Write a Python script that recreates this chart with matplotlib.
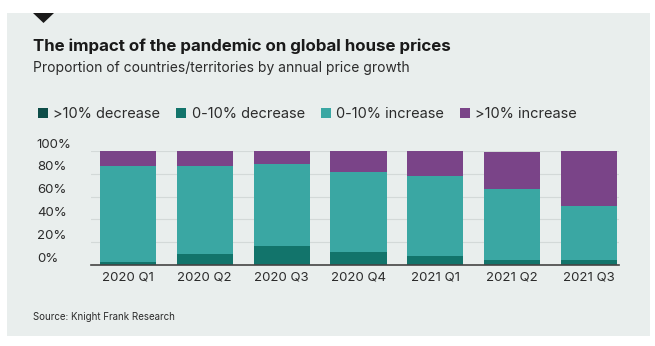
import matplotlib.pyplot as plt
import numpy as np
from matplotlib.patches import Rectangle, Patch, Polygon
from matplotlib.transforms import ScaledTranslation

plt.rcParams['font.family'] = ['Inter', 'DejaVu Sans']

quarters = ["2020 Q1", "2020 Q2", "2020 Q3", "2020 Q4", "2021 Q1", "2021 Q2", "2021 Q3"]
big_decrease = [0, 0, 0, 0, 0, 0, 0]
small_decrease = [2.5, 9.5, 16.5, 11.5, 8, 4.5, 4.5]
small_increase = [84.5, 77.5, 72.5, 70.5, 70, 62, 47]
big_increase = [13, 13, 11, 18, 22, 32.5, 48.5]
series_names = [">10% decrease", "0-10% decrease", "0-10% increase", ">10% increase"]
y_ticks = [0, 20, 40, 60, 80, 100]

colors = ["#0d4d48", "#12746b", "#3aa7a3", "#7a4488"]
text_color = "#2b2b2b"

fig = plt.figure(figsize=(6.55, 3.46), dpi=100)
W, H = 655, 346

# grey card behind everything
fig.patches.append(Rectangle((7 / W, 1 - 336 / H), 643 / W, 323 / H, transform=fig.transFigure,
                             facecolor="#e9eeed", edgecolor="none", zorder=-2))
# little marker triangle at the top
fig.patches.append(Polygon([(33 / W, 1 - 13 / H), (54 / W, 1 - 13 / H), (43.5 / W, 1 - 23 / H)],
                           closed=True, transform=fig.transFigure, facecolor="#1a1a1a",
                           edgecolor="none", zorder=-1))

# titles
fig.text(33 / W, 1 - 46 / H, "The impact of the pandemic on global house prices", fontsize=12.2,
         fontweight="bold", color="#1a1a1a", va="center", ha="left")
fig.text(33 / W, 1 - 68 / H, "Proportion of countries/territories by annual price growth", fontsize=10,
         color=text_color, va="center", ha="left")
fig.text(33 / W, 1 - 317 / H, "Source: Knight Frank Research", fontsize=7,
         color=text_color, va="center", ha="left")

ax = fig.add_axes([91 / W, 1 - 265 / H, 528 / W, 114 / H])
ax.set_facecolor("none")

x = np.arange(len(quarters))
bottom = np.zeros(len(quarters))
for name, vals, c in zip(series_names, [big_decrease, small_decrease, small_increase, big_increase], colors):
    ax.bar(x, vals, width=0.73, bottom=bottom, color=c, label=name, zorder=2)
    bottom += np.array(vals)

ax.set_xlim(-0.48, 6.39)
ax.set_ylim(0, 100)
ax.set_xticks(x)
ax.set_xticklabels(quarters, fontsize=9.5, color=text_color)
ax.set_yticks(y_ticks)
ax.set_yticklabels([f"{t}%" for t in y_ticks], fontsize=9.5, color=text_color, ha="left")
ax.tick_params(axis="y", length=0, pad=39)
ax.tick_params(axis="x", length=0, pad=5)
# tick labels sit a bit above their gridlines
for lab in ax.get_yticklabels():
    lab.set_transform(lab.get_transform() + ScaledTranslation(0, 8 / 100, fig.dpi_scale_trans))

ax.grid(axis="y", color="#d3d9d8", linewidth=0.8, zorder=0)
for s in ["top", "right", "left"]:
    ax.spines[s].set_visible(False)
ax.spines["bottom"].set_color("#444444")
ax.spines["bottom"].set_linewidth(1.2)
ax.spines["bottom"].set_zorder(3)

# legend row
handles = [Patch(facecolor=c, edgecolor="none") for c in colors]
fig.legend(handles, series_names, loc="center left", bbox_to_anchor=(32 / W, 1 - 114 / H),
           ncol=4, frameon=False, fontsize=10.5, handlelength=0.7, handleheight=0.7,
           handletextpad=0.35, columnspacing=1.1, borderaxespad=0, labelcolor=text_color)

plt.savefig("out.png", dpi=100, facecolor="white")
